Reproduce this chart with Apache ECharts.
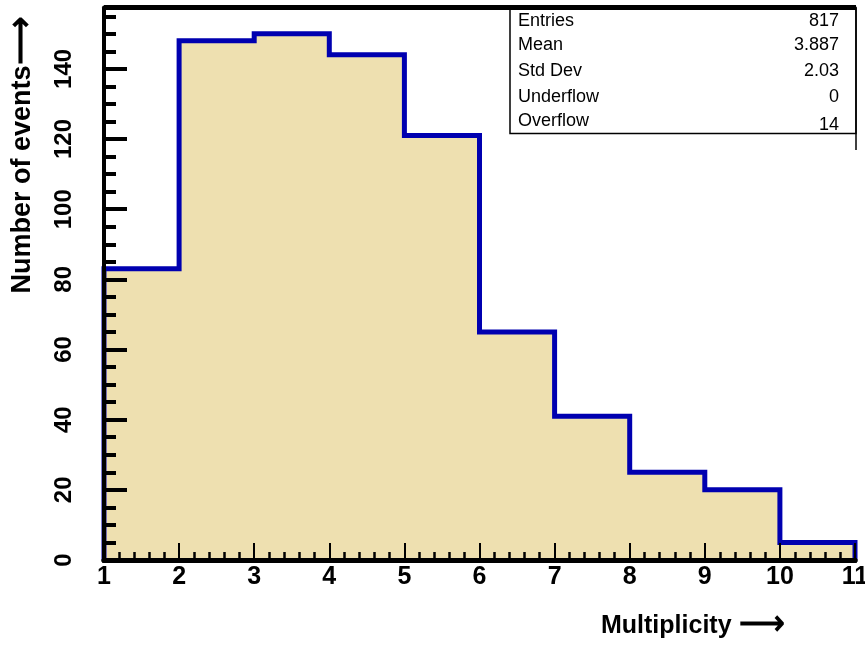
<!DOCTYPE html>
<html>
<head>
<meta charset="utf-8">
<script src="https://cdn.jsdelivr.net/npm/echarts@6/dist/echarts.min.js"></script>
<style>
  html, body { margin: 0; padding: 0; background: #fff; }
  #myChart { width: 865px; height: 645px; }
</style>
</head>
<body>
<div id="myChart"></div>
<script>
  // bin edges and counts
  const binEdges = [1, 2, 3, 4, 5, 6, 7, 8, 9, 10, 11]
  const counts = [83, 148, 150, 144, 121, 65, 41, 25, 20, 5]
  const statNames = ['Entries', 'Mean', 'Std Dev', 'Underflow', 'Overflow']
  const statValues = ['817', '3.887', '2.03', '0', '14']

  const font = 'Liberation Sans, Arial, sans-serif'

  // step outline: rise at left edge, one point per bin, drop at right edge
  let stepData = [[binEdges[0], 0]]
  counts.forEach((c, i) => stepData.push([binEdges[i], c]))
  stepData.push([binEdges[binEdges.length - 1], counts[counts.length - 1]])
  stepData.push([binEdges[binEdges.length - 1], 0])

  // stats box rows
  let statTexts = []
  const rowY = [22, 46, 72, 98, 122]
  statNames.forEach((n, i) => {
    statTexts.push({
      type: 'text', left: 518, top: rowY[i] - 10, z: 101,
      style: { text: n, font: '18px ' + font, fill: '#000' }
    })
    statTexts.push({
      type: 'text', right: 865 - 839, top: rowY[i] - 10 + (i === 4 ? 4 : 0), z: 101,
      style: { text: statValues[i], font: '18px ' + font, fill: '#000', align: 'right' }
    })
  })

  let myChart = echarts.init(document.getElementById('myChart'))
  myChart.setOption({
    animation: false,
    grid: { left: 104, right: 10, top: 7.5, bottom: 85, containLabel: false, outerBoundsMode: 'none' },
    xAxis: [
      {
        type: 'value', min: 1, max: 11, interval: 1, position: 'bottom', z: 5,
        axisLine: { show: true, lineStyle: { color: '#000', width: 5 } },
        axisTick: { show: true, inside: true, length: 17, lineStyle: { color: '#000', width: 2 } },
        minorTick: { show: true, splitNumber: 5, length: 8, lineStyle: { color: '#000', width: 2.5 } },
        axisLabel: { color: '#000', fontFamily: font, fontWeight: 'bold', fontSize: 25, margin: 5 },
        splitLine: { show: false }
      },
      {
        type: 'value', min: 1, max: 11, position: 'top', z: 5,
        axisLine: { show: true, lineStyle: { color: '#000', width: 5 } },
        axisTick: { show: false }, axisLabel: { show: false }, splitLine: { show: false }
      }
    ],
    yAxis: [
      {
        type: 'value', min: 0, max: 157.5, interval: 20, position: 'left', z: 5,
        axisLine: { show: true, lineStyle: { color: '#000', width: 4 } },
        axisTick: { show: true, inside: true, length: 23, lineStyle: { color: '#000', width: 4 } },
        axisLabel: {
          color: '#000', fontFamily: font, fontWeight: 'bold', fontSize: 24,
          rotate: 90, margin: 28, showMaxLabel: false
        },
        splitLine: { show: false }
      },
      {
        type: 'value', min: 0, max: 157.5, interval: 5, position: 'left', z: 4,
        axisLine: { show: false },
        axisTick: { show: true, inside: true, length: 12, lineStyle: { color: '#000', width: 4 } },
        axisLabel: { show: false }, splitLine: { show: false }
      }
    ],
    series: [
      {
        type: 'line',
        step: 'end',
        data: stepData,
        symbol: 'none',
        xAxisIndex: 0,
        yAxisIndex: 0,
        z: 2,
        lineStyle: { color: '#0000b0', width: 5, join: 'miter' },
        areaStyle: { color: '#eee0b0', opacity: 1 }
      }
    ],
    graphic: [
      {
        type: 'text', x: 23, y: 155, rotation: Math.PI / 2, z: 100,
        style: {
          text: 'Number of events{a|⟶}', font: 'bold 27px ' + font, fill: '#000',
          align: 'center', verticalAlign: 'middle',
          rich: { a: { font: 'bold 34px ' + font, fill: '#000', padding: [0, 0, 3, 0] } }
        }
      },
      {
        type: 'text', left: 601, top: 609, z: 100,
        style: {
          text: 'Multiplicity {a|⟶}', font: 'bold 25px ' + font, fill: '#000',
          rich: { a: { font: 'bold 32px ' + font, fill: '#000', padding: [0, 0, 3, 0] } }
        }
      },
      {
        type: 'rect', z: 100,
        shape: { x: 510, y: 7.5, width: 346, height: 126 },
        style: { fill: '#fff', stroke: '#000', lineWidth: 1.5 }
      },
      {
        type: 'line', z: 100,
        shape: { x1: 856, y1: 7.5, x2: 856, y2: 150 },
        style: { stroke: '#000', lineWidth: 1.5 }
      },
      {
        type: 'line', z: 100,
        shape: { x1: 104, y1: 7.5, x2: 856, y2: 7.5 },
        style: { stroke: '#000', lineWidth: 5 }
      }
    ].concat(statTexts)
  })
</script>
</body>
</html>
